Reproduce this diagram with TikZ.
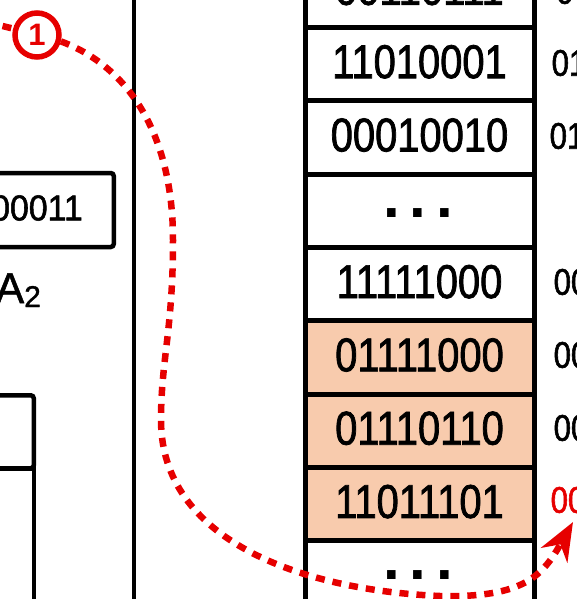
\documentclass[tikz,border=0pt]{standalone}
\usepackage{fontspec}
\usepackage{graphicx}
\setmainfont{Liberation Sans}
\newfontfamily\narrowf[FakeStretch=0.84,FakeBold=1.5]{Liberation Sans}
\newfontfamily\midf[FakeStretch=0.94,FakeBold=1.5]{Liberation Sans}
\newfontfamily\plainf[FakeBold=1.2]{Liberation Sans}
\usetikzlibrary{arrows.meta}
\definecolor{peach}{HTML}{F8CBAD}
\definecolor{dred}{HTML}{E60000}
\begin{document}
\begin{tikzpicture}[x=1pt,y=-1pt,
  cell/.style={draw, line width=5pt, minimum width=229pt, minimum height=73.3pt,
    inner sep=0pt, text height=34pt, text depth=6pt,
    font=\narrowf\fontsize{47.5}{50}\selectfont},
  hot/.style={cell, fill=peach},
  dotrow/.style={inner sep=0pt, font=\bfseries\fontsize{60}{60}\selectfont},
  lab/.style={anchor=west, inner sep=0pt, font=\narrowf\fontsize{37}{40}\selectfont},
  leftbox/.style={draw, line width=4.5pt},
  flow/.style={draw=dred, line width=6.5pt, dash pattern=on 9pt off 8pt},
]
\useasboundingbox (0,0) rectangle (577,599);
\clip (0,0) rectangle (577,599);

% memory column
\node[cell] (r0) at (419.5,-9.15) {00110111};
\node[cell] (r1) at (419.5,64.15) {11010001};
\node[cell] (r2) at (419.5,137.45) {00010010};
\node[cell] (r3) at (419.5,210.75) {};
\node[dotrow] (d3) at (418,213) {.\kern10pt.\kern10pt.};
\node[cell] (r4) at (419.5,284.05) {11111000};
\node[hot] (r5) at (419.5,357.35) {01111000};
\node[hot] (r6) at (419.5,430.65) {01110110};
\node[hot] (r7) at (419.5,503.95) {11011101};
\node[cell] (r8) at (419.5,577.25) {};
\node[dotrow] (d8) at (418,575) {.\kern10pt.\kern10pt.};

% right-hand labels (cut by the frame)
\node[lab] (l0) at (556,-9) {0};
\node[lab] (l1) at (551.5,63) {01};
\node[lab] (l2) at (549.5,136) {01};
\node[lab] (l4) at (553.5,282) {00};
\node[lab] (l5) at (553.5,355) {00};
\node[lab] (l6) at (553.5,428) {00};
\node[lab, text=dred] (l7) at (550.5,500) {00};

% left part
\coordinate (vt) at (134,-10);
\coordinate (vb) at (134,610);
\draw[line width=4.5pt] (vt) -- (vb);

\node[leftbox, rounded corners=3pt, minimum width=150pt, minimum height=74pt, anchor=east] (lb) at (116,210) {};
\node[anchor=east, inner sep=0pt, font=\midf\fontsize{36}{40}\selectfont] (lbt) at (83,208) {00011};
\node[anchor=base west, inner sep=0pt] (a2) at (-4.7,303)
  {\plainf\fontsize{43}{43}\selectfont A\raisebox{-4pt}{\fontsize{30}{30}\selectfont 2}};

\node[leftbox, rounded corners=3pt, minimum width=80pt, minimum height=73pt, anchor=north east] (lc1) at (36,393) {};
\node[leftbox, minimum width=80pt, minimum height=200pt, anchor=north east] (lc2) at (36,466) {};

% red flow
\node[circle, draw=dred, line width=5.5pt, fill=white, minimum size=44pt, inner sep=0pt,
  text=dred, font=\bfseries\fontsize{31}{31}\selectfont] (c1) at (37,35) {1};
\coordinate (src) at (-14,22);
\coordinate (tip) at (573,522);
\draw[flow] (src) -- (c1.165);
\draw[flow, -{Stealth[length=38pt,width=30pt]}] (c1.-15)
  .. controls (125,65) and (173,130) .. (173,240)
  .. controls (173,330) and (161,360) .. (161,420)
  .. controls (161,540) and (300,590) .. (440,596)
  .. controls (525,598) and (543,575) .. (tip);
\end{tikzpicture}
\end{document}
